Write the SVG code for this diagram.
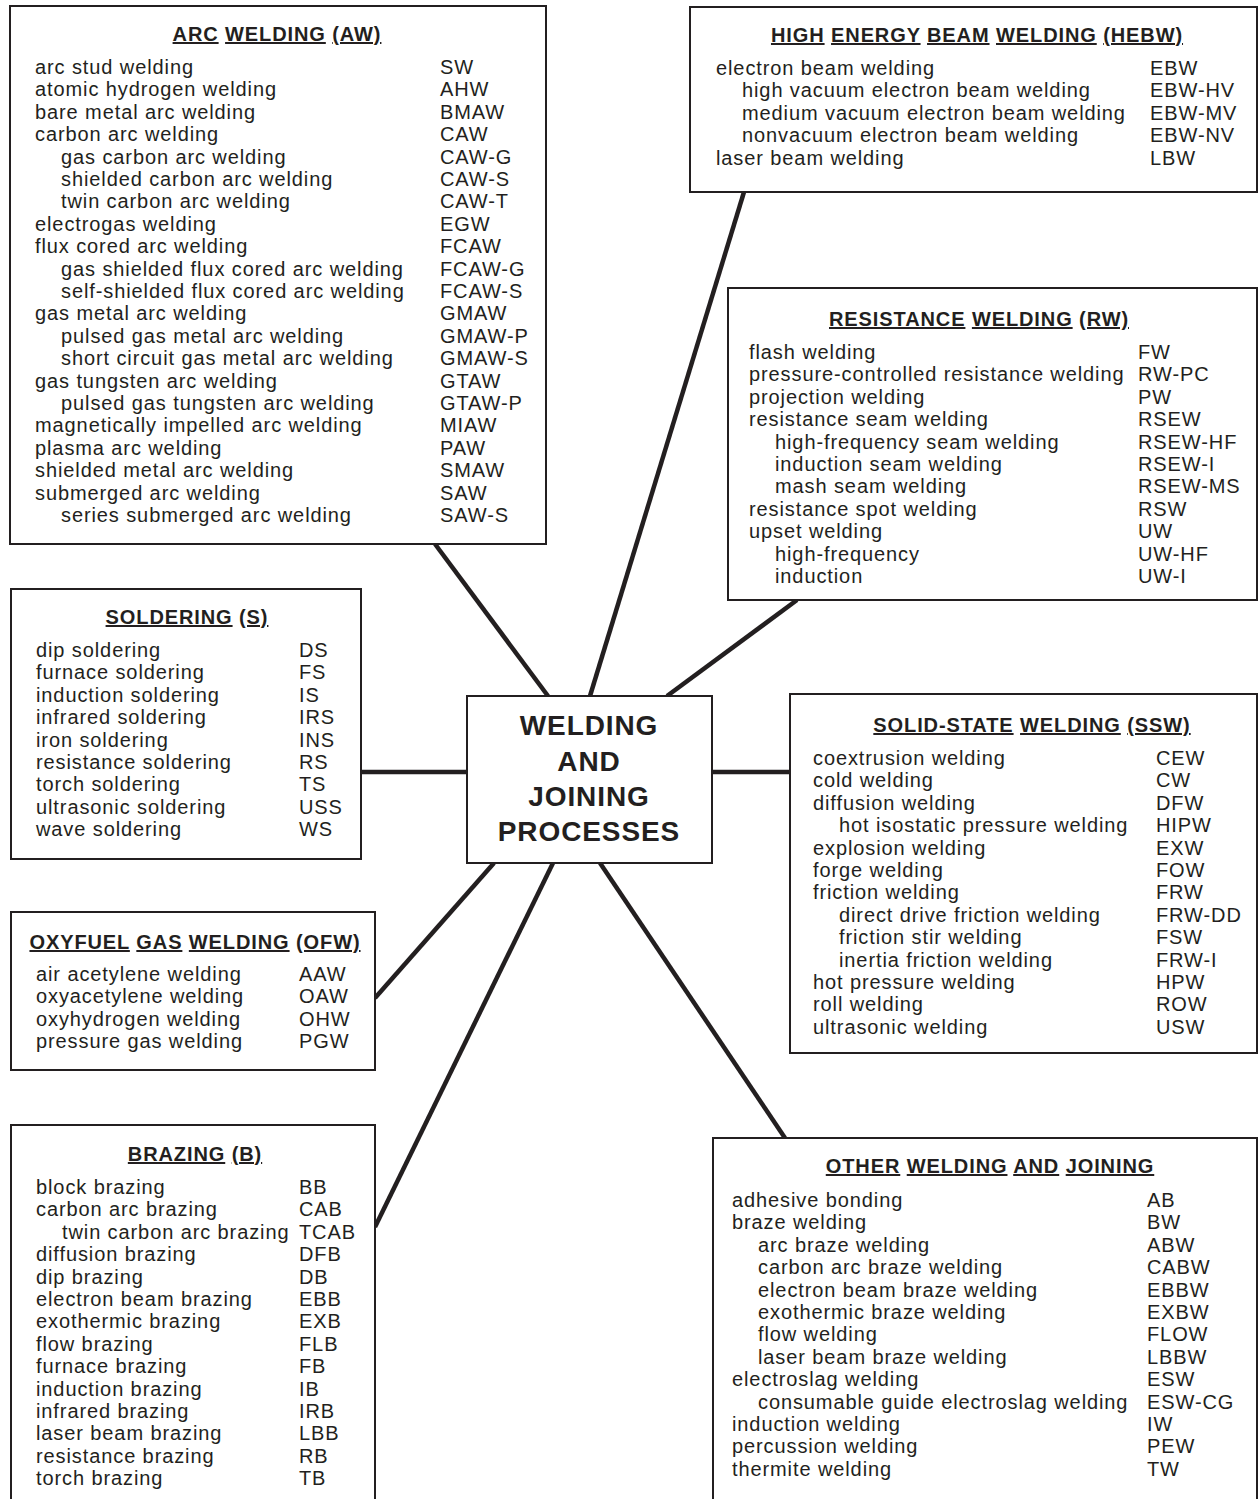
<svg xmlns="http://www.w3.org/2000/svg" width="1259" height="1499" viewBox="0 0 1259 1499">
<style>
text{font-family:"Liberation Sans",Arial,Helvetica,sans-serif;fill:#231f20;letter-spacing:0.9px}
.t{font-size:20px}
.h{font-size:20px;font-weight:bold;text-anchor:middle}
.u{text-decoration:underline}
.m{font-size:28px;font-weight:bold;text-anchor:middle}
.box{fill:#fff;stroke:#231f20;stroke-width:2}
.ln{stroke:#231f20;stroke-width:4.5;fill:none}
</style>
<rect width="1259" height="1499" fill="#fff"/>
<g id="connectors">
<line class="ln" x1="435" y1="544" x2="548" y2="696"/>
<line class="ln" x1="744" y1="192" x2="590" y2="696"/>
<line class="ln" x1="797" y1="600" x2="667" y2="696"/>
<line class="ln" x1="361" y1="772" x2="467" y2="772"/>
<line class="ln" x1="712" y1="772" x2="790" y2="772"/>
<line class="ln" x1="375" y1="998" x2="494" y2="863"/>
<line class="ln" x1="375" y1="1227" x2="553" y2="863"/>
<line class="ln" x1="600" y1="863" x2="785" y2="1138"/>
</g>
<g id="center">
<rect class="box" x="467" y="696" width="245" height="167"/>
<text class="m" x="589" y="735">WELDING</text>
<text class="m" x="589" y="771">AND</text>
<text class="m" x="589" y="806">JOINING</text>
<text class="m" x="589" y="841">PROCESSES</text>
</g>
<g id="aw">
<rect class="box" x="10" y="6" width="536" height="538"/>
<text class="h" x="277" y="41"><tspan class="u">ARC</tspan> <tspan class="u">WELDING</tspan> <tspan class="u">(AW)</tspan></text>
<text class="t" x="35" y="74">arc stud welding</text><text class="t" x="440" y="74">SW</text>
<text class="t" x="35" y="96.4">atomic hydrogen welding</text><text class="t" x="440" y="96.4">AHW</text>
<text class="t" x="35" y="118.8">bare metal arc welding</text><text class="t" x="440" y="118.8">BMAW</text>
<text class="t" x="35" y="141.2">carbon arc welding</text><text class="t" x="440" y="141.2">CAW</text>
<text class="t" x="61" y="163.6">gas carbon arc welding</text><text class="t" x="440" y="163.6">CAW-G</text>
<text class="t" x="61" y="186">shielded carbon arc welding</text><text class="t" x="440" y="186">CAW-S</text>
<text class="t" x="61" y="208.4">twin carbon arc welding</text><text class="t" x="440" y="208.4">CAW-T</text>
<text class="t" x="35" y="230.8">electrogas welding</text><text class="t" x="440" y="230.8">EGW</text>
<text class="t" x="35" y="253.2">flux cored arc welding</text><text class="t" x="440" y="253.2">FCAW</text>
<text class="t" x="61" y="275.6">gas shielded flux cored arc welding</text><text class="t" x="440" y="275.6">FCAW-G</text>
<text class="t" x="61" y="298">self-shielded flux cored arc welding</text><text class="t" x="440" y="298">FCAW-S</text>
<text class="t" x="35" y="320.4">gas metal arc welding</text><text class="t" x="440" y="320.4">GMAW</text>
<text class="t" x="61" y="342.8">pulsed gas metal arc welding</text><text class="t" x="440" y="342.8">GMAW-P</text>
<text class="t" x="61" y="365.2">short circuit gas metal arc welding</text><text class="t" x="440" y="365.2">GMAW-S</text>
<text class="t" x="35" y="387.6">gas tungsten arc welding</text><text class="t" x="440" y="387.6">GTAW</text>
<text class="t" x="61" y="410">pulsed gas tungsten arc welding</text><text class="t" x="440" y="410">GTAW-P</text>
<text class="t" x="35" y="432.4">magnetically impelled arc welding</text><text class="t" x="440" y="432.4">MIAW</text>
<text class="t" x="35" y="454.8">plasma arc welding</text><text class="t" x="440" y="454.8">PAW</text>
<text class="t" x="35" y="477.2">shielded metal arc welding</text><text class="t" x="440" y="477.2">SMAW</text>
<text class="t" x="35" y="499.6">submerged arc welding</text><text class="t" x="440" y="499.6">SAW</text>
<text class="t" x="61" y="522">series submerged arc welding</text><text class="t" x="440" y="522">SAW-S</text>
</g>
<g id="hebw">
<rect class="box" x="690" y="7" width="567" height="185"/>
<text class="h" x="977" y="42"><tspan class="u">HIGH</tspan> <tspan class="u">ENERGY</tspan> <tspan class="u">BEAM</tspan> <tspan class="u">WELDING</tspan> <tspan class="u">(HEBW)</tspan></text>
<text class="t" x="716" y="75">electron beam welding</text><text class="t" x="1150" y="75">EBW</text>
<text class="t" x="742" y="97.4">high vacuum electron beam welding</text><text class="t" x="1150" y="97.4">EBW-HV</text>
<text class="t" x="742" y="119.8">medium vacuum electron beam welding</text><text class="t" x="1150" y="119.8">EBW-MV</text>
<text class="t" x="742" y="142.2">nonvacuum electron beam welding</text><text class="t" x="1150" y="142.2">EBW-NV</text>
<text class="t" x="716" y="164.6">laser beam welding</text><text class="t" x="1150" y="164.6">LBW</text>
</g>
<g id="rw">
<rect class="box" x="728" y="288" width="529" height="312"/>
<text class="h" x="979" y="326"><tspan class="u">RESISTANCE</tspan> <tspan class="u">WELDING</tspan> <tspan class="u">(RW)</tspan></text>
<text class="t" x="749" y="359">flash welding</text><text class="t" x="1138" y="359">FW</text>
<text class="t" x="749" y="381.4">pressure-controlled resistance welding</text><text class="t" x="1138" y="381.4">RW-PC</text>
<text class="t" x="749" y="403.8">projection welding</text><text class="t" x="1138" y="403.8">PW</text>
<text class="t" x="749" y="426.2">resistance seam welding</text><text class="t" x="1138" y="426.2">RSEW</text>
<text class="t" x="775" y="448.6">high-frequency seam welding</text><text class="t" x="1138" y="448.6">RSEW-HF</text>
<text class="t" x="775" y="471">induction seam welding</text><text class="t" x="1138" y="471">RSEW-I</text>
<text class="t" x="775" y="493.4">mash seam welding</text><text class="t" x="1138" y="493.4">RSEW-MS</text>
<text class="t" x="749" y="515.8">resistance spot welding</text><text class="t" x="1138" y="515.8">RSW</text>
<text class="t" x="749" y="538.2">upset welding</text><text class="t" x="1138" y="538.2">UW</text>
<text class="t" x="775" y="560.6">high-frequency</text><text class="t" x="1138" y="560.6">UW-HF</text>
<text class="t" x="775" y="583">induction</text><text class="t" x="1138" y="583">UW-I</text>
</g>
<g id="s">
<rect class="box" x="11" y="589" width="350" height="270"/>
<text class="h" x="187" y="624"><tspan class="u">SOLDERING</tspan> <tspan class="u">(S)</tspan></text>
<text class="t" x="36" y="657">dip soldering</text><text class="t" x="299" y="657">DS</text>
<text class="t" x="36" y="679.4">furnace soldering</text><text class="t" x="299" y="679.4">FS</text>
<text class="t" x="36" y="701.8">induction soldering</text><text class="t" x="299" y="701.8">IS</text>
<text class="t" x="36" y="724.2">infrared soldering</text><text class="t" x="299" y="724.2">IRS</text>
<text class="t" x="36" y="746.6">iron soldering</text><text class="t" x="299" y="746.6">INS</text>
<text class="t" x="36" y="769">resistance soldering</text><text class="t" x="299" y="769">RS</text>
<text class="t" x="36" y="791.4">torch soldering</text><text class="t" x="299" y="791.4">TS</text>
<text class="t" x="36" y="813.8">ultrasonic soldering</text><text class="t" x="299" y="813.8">USS</text>
<text class="t" x="36" y="836.2">wave soldering</text><text class="t" x="299" y="836.2">WS</text>
</g>
<g id="ssw">
<rect class="box" x="790" y="694" width="467" height="359"/>
<text class="h" x="1032" y="732"><tspan class="u">SOLID-STATE</tspan> <tspan class="u">WELDING</tspan> <tspan class="u">(SSW)</tspan></text>
<text class="t" x="813" y="765">coextrusion welding</text><text class="t" x="1156" y="765">CEW</text>
<text class="t" x="813" y="787.4">cold welding</text><text class="t" x="1156" y="787.4">CW</text>
<text class="t" x="813" y="809.8">diffusion welding</text><text class="t" x="1156" y="809.8">DFW</text>
<text class="t" x="839" y="832.2">hot isostatic pressure welding</text><text class="t" x="1156" y="832.2">HIPW</text>
<text class="t" x="813" y="854.6">explosion welding</text><text class="t" x="1156" y="854.6">EXW</text>
<text class="t" x="813" y="877">forge welding</text><text class="t" x="1156" y="877">FOW</text>
<text class="t" x="813" y="899.4">friction welding</text><text class="t" x="1156" y="899.4">FRW</text>
<text class="t" x="839" y="921.8">direct drive friction welding</text><text class="t" x="1156" y="921.8">FRW-DD</text>
<text class="t" x="839" y="944.2">friction stir welding</text><text class="t" x="1156" y="944.2">FSW</text>
<text class="t" x="839" y="966.6">inertia friction welding</text><text class="t" x="1156" y="966.6">FRW-I</text>
<text class="t" x="813" y="989">hot pressure welding</text><text class="t" x="1156" y="989">HPW</text>
<text class="t" x="813" y="1011.4">roll welding</text><text class="t" x="1156" y="1011.4">ROW</text>
<text class="t" x="813" y="1033.8">ultrasonic welding</text><text class="t" x="1156" y="1033.8">USW</text>
</g>
<g id="ofw">
<rect class="box" x="11" y="912" width="364" height="158"/>
<text class="h" x="195" y="949"><tspan class="u">OXYFUEL</tspan> <tspan class="u">GAS</tspan> <tspan class="u">WELDING</tspan> <tspan class="u">(OFW)</tspan></text>
<text class="t" x="36" y="981">air acetylene welding</text><text class="t" x="299" y="981">AAW</text>
<text class="t" x="36" y="1003.4">oxyacetylene welding</text><text class="t" x="299" y="1003.4">OAW</text>
<text class="t" x="36" y="1025.8">oxyhydrogen welding</text><text class="t" x="299" y="1025.8">OHW</text>
<text class="t" x="36" y="1048.2">pressure gas welding</text><text class="t" x="299" y="1048.2">PGW</text>
</g>
<g id="b">
<rect class="box" x="11" y="1125" width="364" height="380"/>
<text class="h" x="195" y="1161"><tspan class="u">BRAZING</tspan> <tspan class="u">(B)</tspan></text>
<text class="t" x="36" y="1194">block brazing</text><text class="t" x="299" y="1194">BB</text>
<text class="t" x="36" y="1216.4">carbon arc brazing</text><text class="t" x="299" y="1216.4">CAB</text>
<text class="t" x="62" y="1238.8">twin carbon arc brazing</text><text class="t" x="299" y="1238.8">TCAB</text>
<text class="t" x="36" y="1261.2">diffusion brazing</text><text class="t" x="299" y="1261.2">DFB</text>
<text class="t" x="36" y="1283.6">dip brazing</text><text class="t" x="299" y="1283.6">DB</text>
<text class="t" x="36" y="1306">electron beam brazing</text><text class="t" x="299" y="1306">EBB</text>
<text class="t" x="36" y="1328.4">exothermic brazing</text><text class="t" x="299" y="1328.4">EXB</text>
<text class="t" x="36" y="1350.8">flow brazing</text><text class="t" x="299" y="1350.8">FLB</text>
<text class="t" x="36" y="1373.2">furnace brazing</text><text class="t" x="299" y="1373.2">FB</text>
<text class="t" x="36" y="1395.6">induction brazing</text><text class="t" x="299" y="1395.6">IB</text>
<text class="t" x="36" y="1418">infrared brazing</text><text class="t" x="299" y="1418">IRB</text>
<text class="t" x="36" y="1440.4">laser beam brazing</text><text class="t" x="299" y="1440.4">LBB</text>
<text class="t" x="36" y="1462.8">resistance brazing</text><text class="t" x="299" y="1462.8">RB</text>
<text class="t" x="36" y="1485.2">torch brazing</text><text class="t" x="299" y="1485.2">TB</text>
</g>
<g id="other">
<rect class="box" x="713" y="1138" width="544" height="367"/>
<text class="h" x="990" y="1173"><tspan class="u">OTHER</tspan> <tspan class="u">WELDING</tspan> <tspan class="u">AND</tspan> <tspan class="u">JOINING</tspan></text>
<text class="t" x="732" y="1207">adhesive bonding</text><text class="t" x="1147" y="1207">AB</text>
<text class="t" x="732" y="1229.4">braze welding</text><text class="t" x="1147" y="1229.4">BW</text>
<text class="t" x="758" y="1251.8">arc braze welding</text><text class="t" x="1147" y="1251.8">ABW</text>
<text class="t" x="758" y="1274.2">carbon arc braze welding</text><text class="t" x="1147" y="1274.2">CABW</text>
<text class="t" x="758" y="1296.6">electron beam braze welding</text><text class="t" x="1147" y="1296.6">EBBW</text>
<text class="t" x="758" y="1319">exothermic braze welding</text><text class="t" x="1147" y="1319">EXBW</text>
<text class="t" x="758" y="1341.4">flow welding</text><text class="t" x="1147" y="1341.4">FLOW</text>
<text class="t" x="758" y="1363.8">laser beam braze welding</text><text class="t" x="1147" y="1363.8">LBBW</text>
<text class="t" x="732" y="1386.2">electroslag welding</text><text class="t" x="1147" y="1386.2">ESW</text>
<text class="t" x="758" y="1408.6">consumable guide electroslag welding</text><text class="t" x="1147" y="1408.6">ESW-CG</text>
<text class="t" x="732" y="1431">induction welding</text><text class="t" x="1147" y="1431">IW</text>
<text class="t" x="732" y="1453.4">percussion welding</text><text class="t" x="1147" y="1453.4">PEW</text>
<text class="t" x="732" y="1475.8">thermite welding</text><text class="t" x="1147" y="1475.8">TW</text>
</g>
</svg>
